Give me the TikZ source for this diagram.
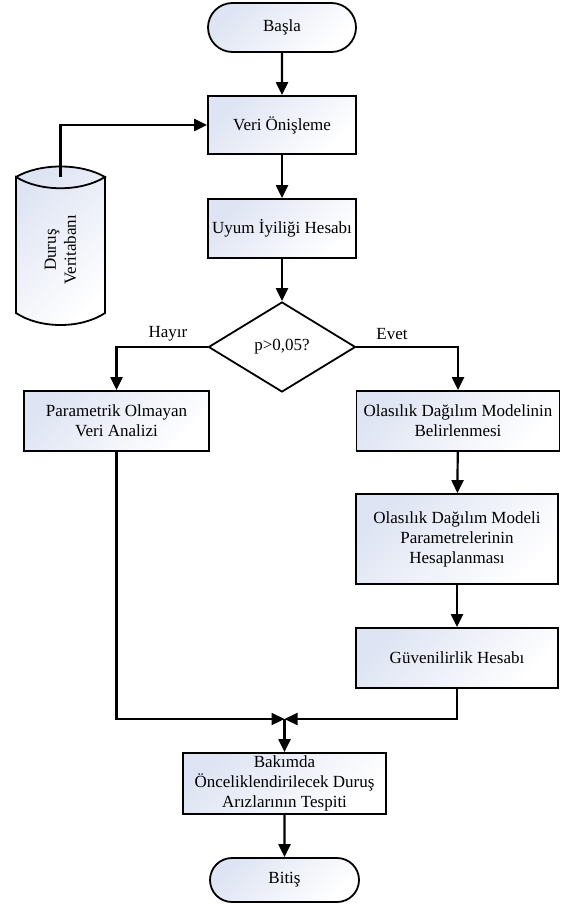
\documentclass[tikz,border=0pt]{standalone}
\usepackage{fontspec}
\setmainfont{Liberation Serif}
\usetikzlibrary{shapes.geometric,shapes.misc,arrows.meta}
\definecolor{fillc}{RGB}{222,228,243}
\begin{document}
\begin{tikzpicture}[x=1pt,y=-1pt,
  font=\fontsize{17}{20}\selectfont,
  shadedfill/.style={top color=fillc, bottom color=white, shading angle=45},
  procbox/.style={draw, line width=1.8pt, shadedfill, rectangle, align=center, inner sep=0pt},
  termbox/.style={draw, line width=1.8pt, shadedfill, rounded rectangle, align=center, inner sep=0pt},
  decbox/.style={draw, line width=1.8pt, fill=white, diamond, align=center, inner sep=0pt},
  conn/.style={line width=2.2pt, -{Triangle[length=13pt,width=12pt]}},
  lbl/.style={inner sep=0pt}
]
\useasboundingbox (0,0) rectangle (562,904);
\fill[white] (0,0) rectangle (562,904);

% database cylinder
\path[shadedfill] (16,177) -- (16,313) .. controls (40,329) and (81,329) .. (105,313) -- (105,177) .. controls (81,163) and (40,163) .. (16,177) -- cycle;
\draw[line width=1.8pt] (16,177) .. controls (40,163) and (81,163) .. (105,177) .. controls (81,192) and (40,192) .. (16,177) -- (16,313) .. controls (40,329) and (81,329) .. (105,313) -- (105,177);
\node[rotate=90, align=center, inner sep=0pt] (db) at (60.5,250) {Duruş\\Veritabanı};
\coordinate (dbtop) at (60.5,177);

% main nodes
\node[termbox, minimum width=148pt, minimum height=49pt] (start) at (282,27.5) {Başla};
\node[procbox, minimum width=148pt, minimum height=58pt] (pre) at (282,125) {Veri Önişleme};
\node[procbox, minimum width=148pt, minimum height=59pt] (fit) at (282,228.5) {Uyum İyiliği Hesabı};
\node[decbox, minimum width=147pt, minimum height=90pt] (dec) at (282,347) {p>0,05?};
\node[procbox, minimum width=185pt, minimum height=60pt] (npar) at (116.5,421) {Parametrik Olmayan\\Veri Analizi};
\node[procbox, minimum width=203pt, minimum height=60pt] (dist) at (458,421) {Olasılık Dağılım Modelinin\\Belirlenmesi};
\node[procbox, minimum width=202pt, minimum height=90pt] (param) at (457,539) {Olasılık Dağılım Modeli\\Parametrelerinin\\Hesaplanması};
\node[procbox, minimum width=202pt, minimum height=60pt] (rel) at (457,658) {Güvenilirlik Hesabı};
\node[procbox, minimum width=203pt, minimum height=61pt] (prio) at (284.5,783.5) {Bakımda\\Önceliklendirilecek Duruş\\Arızlarının Tespiti};
\node[termbox, minimum width=149pt, minimum height=44pt] (end) at (284.5,880) {Bitiş};

% branch labels
\node[lbl] (no) at (168,334) {Hayır};
\node[lbl] (yes) at (392,334) {Evet};

% connectors
\coordinate (m) at (284.5,719);
\draw[conn] (start) -- (pre);
\draw[conn] (pre) -- (fit);
\draw[conn] (fit) -- (dec);
\draw[conn] (dbtop) |- (pre.west);
\draw[conn] (dec.west) -| (npar.north);
\draw[conn] (dec.east) -| (dist.north);
\draw[conn] (dist) -- (param);
\draw[conn] (param) -- (rel);
\draw[conn] (npar.south) |- (m);
\draw[conn] (rel.south) |- (m);
\draw[conn] (m) -- (prio);
\draw[conn] (prio) -- (end);
\end{tikzpicture}
\end{document}
